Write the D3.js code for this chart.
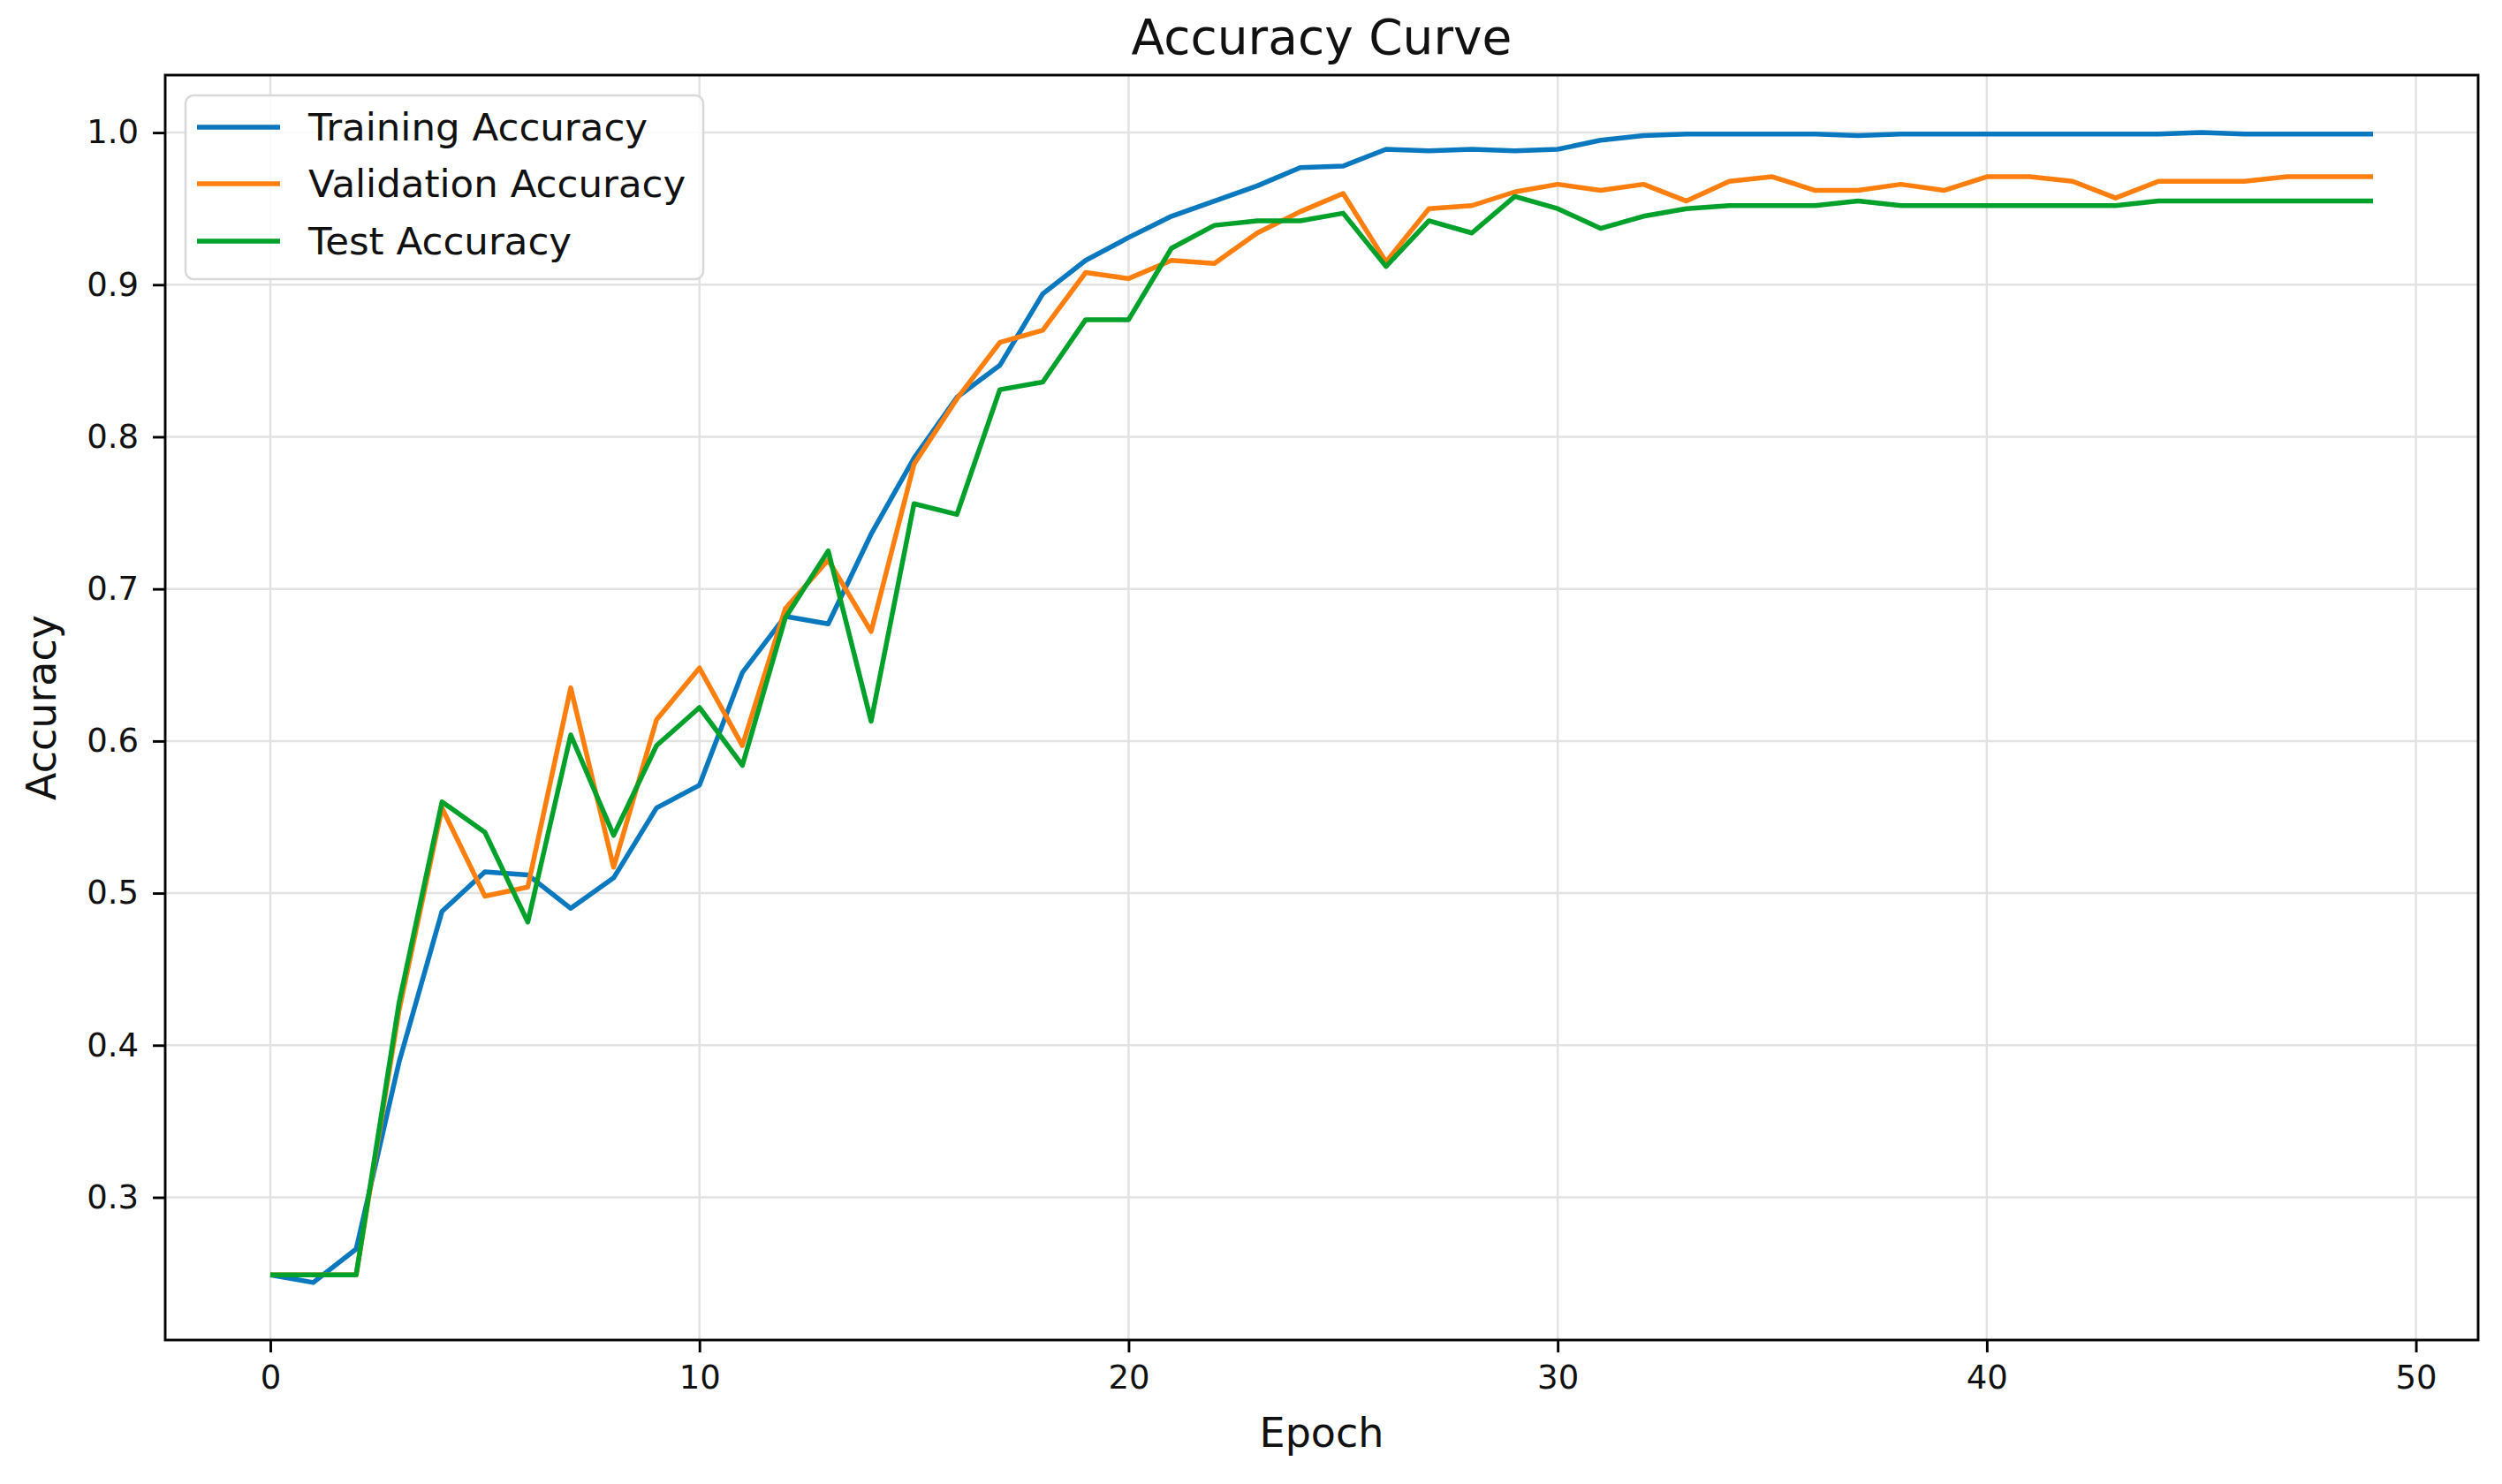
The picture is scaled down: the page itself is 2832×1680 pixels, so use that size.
<!DOCTYPE html>
<html>
<head>
<meta charset="utf-8">
<script src="https://cdn.jsdelivr.net/npm/d3@7"></script>
<style>
  html, body { margin: 0; padding: 0; background: #ffffff; }
  svg { display: block; font-family: "DejaVu Sans", sans-serif; }
</style>
</head>
<body>
<svg id="chart" width="2832" height="1680"></svg>
<script>
// ---------- data ----------
const epochs = d3.range(0, 50);
const trainingAccuracy = [
  0.249, 0.244, 0.266, 0.389, 0.488, 0.514, 0.512, 0.490, 0.510, 0.556,
  0.571, 0.645, 0.682, 0.677, 0.736, 0.786, 0.826, 0.847, 0.894, 0.916,
  0.931, 0.945, 0.955, 0.965, 0.977, 0.978, 0.989, 0.988, 0.989, 0.988,
  0.989, 0.995, 0.998, 0.999, 0.999, 0.999, 0.999, 0.998, 0.999, 0.999,
  0.999, 0.999, 0.999, 0.999, 0.999, 1.000, 0.999, 0.999, 0.999, 0.999
];
const validationAccuracy = [
  0.249, 0.249, 0.249, 0.423, 0.556, 0.498, 0.504, 0.635, 0.517, 0.614,
  0.648, 0.597, 0.687, 0.719, 0.672, 0.782, 0.825, 0.862, 0.870, 0.908,
  0.904, 0.916, 0.914, 0.934, 0.948, 0.960, 0.915, 0.950, 0.952, 0.961,
  0.966, 0.962, 0.966, 0.955, 0.968, 0.971, 0.962, 0.962, 0.966, 0.962,
  0.971, 0.971, 0.968, 0.957, 0.968, 0.968, 0.968, 0.971, 0.971, 0.971
];
const testAccuracy = [
  0.249, 0.249, 0.249, 0.428, 0.560, 0.540, 0.481, 0.604, 0.538, 0.597,
  0.622, 0.584, 0.681, 0.725, 0.613, 0.756, 0.749, 0.831, 0.836, 0.877,
  0.877, 0.924, 0.939, 0.942, 0.942, 0.947, 0.912, 0.942, 0.934, 0.958,
  0.950, 0.937, 0.945, 0.950, 0.952, 0.952, 0.952, 0.955, 0.952, 0.952,
  0.952, 0.952, 0.952, 0.952, 0.955, 0.955, 0.955, 0.955, 0.955, 0.955
];
const seriesNames = ["Training Accuracy", "Validation Accuracy", "Test Accuracy"];
const seriesColors = ["#0a78bf", "#ff7f0e", "#00a12a"];
const xTickValues = [0, 10, 20, 30, 40, 50];
const yTickValues = [0.3, 0.4, 0.5, 0.6, 0.7, 0.8, 0.9, 1.0];
const titleText = "Accuracy Curve";
const xLabelText = "Epoch";
const yLabelText = "Accuracy";

// ---------- layout ----------
const svg = d3.select("#chart");
const plot = { left: 187, right: 2805, top: 85, bottom: 1517 };

const allSeries = [trainingAccuracy, validationAccuracy, testAccuracy];
const xExt = d3.extent(epochs);
const xPad = (xExt[1] - xExt[0]) * 0.05;
const yExt = d3.extent(allSeries.flat());
const yPad = (yExt[1] - yExt[0]) * 0.05;

const x = d3.scaleLinear().domain([xExt[0] - xPad, xExt[1] + xPad]).range([plot.left, plot.right]);
const y = d3.scaleLinear().domain([yExt[0] - yPad, yExt[1] + yPad]).range([plot.bottom, plot.top]);

// grid
const grid = svg.append("g");
grid.selectAll("line.gx").data(xTickValues).enter().append("line")
  .attr("x1", d => x(d)).attr("x2", d => x(d))
  .attr("y1", plot.top).attr("y2", plot.bottom)
  .attr("stroke", "#e2e2e2").attr("stroke-width", 2.5);
grid.selectAll("line.gy").data(yTickValues).enter().append("line")
  .attr("y1", d => y(d)).attr("y2", d => y(d))
  .attr("x1", plot.left).attr("x2", plot.right)
  .attr("stroke", "#e2e2e2").attr("stroke-width", 2.5);

// lines
const line = d3.line().x((d, i) => x(epochs[i])).y(d => y(d));
svg.append("g").selectAll("path").data(allSeries).enter().append("path")
  .attr("d", d => line(d))
  .attr("fill", "none")
  .attr("stroke", (d, i) => seriesColors[i])
  .attr("stroke-width", 5.5)
  .attr("stroke-linejoin", "round")
  .attr("stroke-linecap", "butt");

// frame
svg.append("rect")
  .attr("x", plot.left).attr("y", plot.top)
  .attr("width", plot.right - plot.left).attr("height", plot.bottom - plot.top)
  .attr("fill", "none").attr("stroke", "#000").attr("stroke-width", 2.9);

// axes
const xAxis = svg.append("g").attr("transform", `translate(0,${plot.bottom})`)
  .call(d3.axisBottom(x).tickValues(xTickValues).tickFormat(d3.format("d")).tickSize(14).tickPadding(15));
const yAxis = svg.append("g").attr("transform", `translate(${plot.left},0)`)
  .call(d3.axisLeft(y).tickValues(yTickValues).tickFormat(d3.format(".1f")).tickSize(14).tickPadding(16));
[xAxis, yAxis].forEach(a => {
  a.select(".domain").remove();
  a.selectAll(".tick line").attr("stroke", "#000").attr("stroke-width", 2.9);
  a.selectAll(".tick text").attr("font-size", 37).attr("fill", "#111")
    .attr("font-family", "DejaVu Sans, sans-serif");
});

// title and labels
svg.append("text").attr("x", (plot.left + plot.right) / 2).attr("y", 61)
  .attr("text-anchor", "middle").attr("font-size", 55).attr("fill", "#111").text(titleText);
svg.append("text").attr("x", (plot.left + plot.right) / 2).attr("y", 1638)
  .attr("text-anchor", "middle").attr("font-size", 46).attr("fill", "#111").text(xLabelText);
svg.append("text").attr("transform", `translate(63,${(plot.top + plot.bottom) / 2}) rotate(-90)`)
  .attr("text-anchor", "middle").attr("font-size", 46).attr("fill", "#111").text(yLabelText);

// legend
const legend = svg.append("g");
legend.append("rect").attr("x", 210).attr("y", 108).attr("width", 586).attr("height", 208)
  .attr("rx", 9).attr("ry", 9)
  .attr("fill", "#ffffff").attr("fill-opacity", 0.85)
  .attr("stroke", "#d8d8d8").attr("stroke-width", 2.5);
const legendRowY = [144, 208, 273];
const items = legend.selectAll("g.item").data(seriesNames).enter().append("g")
  .attr("transform", (d, i) => `translate(0,${legendRowY[i]})`);
items.append("line").attr("x1", 223).attr("x2", 317).attr("y1", 0).attr("y2", 0)
  .attr("stroke", (d, i) => seriesColors[i]).attr("stroke-width", 5.5);
items.append("text").attr("x", 349).attr("y", 14.5).attr("font-size", 43.5).attr("fill", "#111")
  .text(d => d);
</script>
</body>
</html>
